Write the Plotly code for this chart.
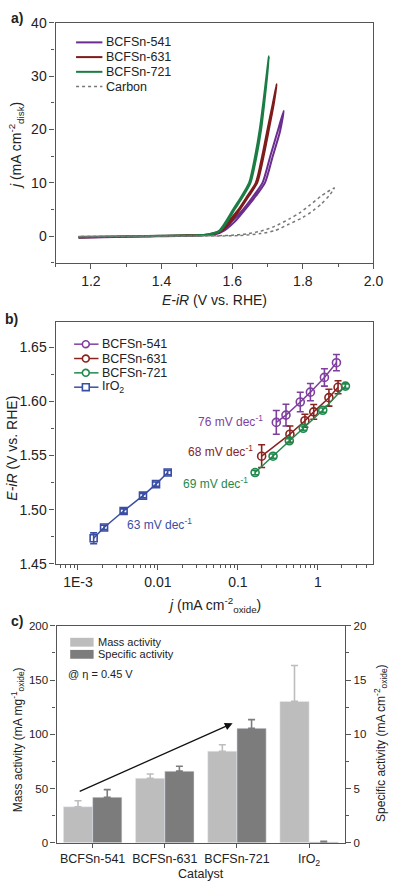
import plotly.graph_objects as go

# ---------------- data: panel a (LSV / CV curves) ----------------
E_541 = [1.165, 1.30, 1.45, 1.52, 1.55, 1.572, 1.60, 1.631, 1.66, 1.686, 1.708, 1.728, 1.746,
         1.735, 1.715, 1.693, 1.667, 1.637, 1.606, 1.577, 1.554, 1.50, 1.35, 1.165]
J_541 = [-0.35, -0.15, 0.05, 0.15, 0.4, 1.0, 2.8, 5.0, 7.5, 10.0, 15.0, 19.5, 23.5,
         19.5, 15.0, 10.0, 7.5, 5.0, 2.6, 1.0, 0.35, 0.1, -0.1, -0.3]
E_631 = [1.165, 1.30, 1.45, 1.52, 1.548, 1.568, 1.591, 1.618, 1.643, 1.667, 1.685, 1.70, 1.714, 1.726,
         1.717, 1.704, 1.689, 1.671, 1.647, 1.622, 1.595, 1.572, 1.551, 1.50, 1.35, 1.165]
J_631 = [-0.3, -0.1, 0.1, 0.2, 0.5, 1.0, 2.8, 5.0, 7.5, 10.0, 15.0, 20.0, 24.5, 28.5,
         24.5, 20.0, 15.0, 10.0, 7.5, 5.0, 2.6, 1.0, 0.4, 0.15, -0.05, -0.25]
E_721 = [1.165, 1.30, 1.45, 1.52, 1.545, 1.563, 1.58, 1.603, 1.627, 1.648, 1.665, 1.678, 1.688, 1.697, 1.704,
         1.699, 1.691, 1.682, 1.669, 1.652, 1.631, 1.607, 1.585, 1.567, 1.548, 1.50, 1.35, 1.165]
J_721 = [-0.25, -0.05, 0.1, 0.2, 0.5, 1.0, 2.5, 5.0, 7.5, 10.0, 15.0, 20.0, 25.0, 30.0, 33.7,
         30.0, 25.0, 20.0, 15.0, 10.0, 7.5, 5.0, 2.6, 1.0, 0.4, 0.15, 0.0, -0.2]
E_carbon = [1.165, 1.40, 1.55, 1.62, 1.68, 1.72, 1.76, 1.80, 1.83, 1.852, 1.875, 1.889,
            1.87, 1.852, 1.82, 1.79, 1.762, 1.72, 1.68, 1.64, 1.60, 1.55, 1.40, 1.165]
J_carbon = [-0.1, -0.05, 0.0, 0.1, 0.45, 1.0, 2.2, 3.5, 4.8, 6.0, 7.6, 9.0,
            8.3, 7.5, 5.8, 4.3, 3.2, 1.8, 0.9, 0.4, 0.15, 0.05, 0.0, -0.05]

# ---------------- data: panel b (Tafel) ----------------
tafel_j_541 = [0.302, 0.399, 0.602, 0.806, 1.207, 1.706]
tafel_E_541 = [1.5806, 1.5873, 1.5994, 1.6085, 1.6221, 1.6357]
tafel_err_541 = [0.011, 0.010, 0.009, 0.008, 0.008, 0.0075]
tafel_j_631 = [0.198, 0.447, 0.689, 0.887, 1.374, 1.787]
tafel_E_631 = [1.5494, 1.5697, 1.5821, 1.5903, 1.6034, 1.6130]
tafel_err_631 = [0.0105, 0.0075, 0.006, 0.0068, 0.0078, 0.006]
tafel_j_721 = [0.164, 0.275, 0.439, 0.656, 1.15, 2.21]
tafel_E_721 = [1.5343, 1.5494, 1.5636, 1.5752, 1.5918, 1.6141]
tafel_err_721 = [0.002, 0.002, 0.002, 0.002, 0.002, 0.002]
tafel_j_ir = [0.00157, 0.00212, 0.00372, 0.0065, 0.00946, 0.01324]
tafel_E_ir = [1.4736, 1.4836, 1.4988, 1.5130, 1.5236, 1.5343]
tafel_err_ir = [0.005, 0.002, 0.002, 0.002, 0.002, 0.002]
slope_labels = ["76 mV dec<sup>-1</sup>", "68 mV dec<sup>-1</sup>", "69 mV dec<sup>-1</sup>", "63 mV dec<sup>-1</sup>"]

# ---------------- data: panel c (activities) ----------------
catalysts = ["BCFSn-541", "BCFSn-631", "BCFSn-721", "IrO<sub>2</sub>"]
mass_activity = [33.2, 59.4, 84.4, 130.3]
mass_err = [5.5, 4.0, 6.0, 33.0]
specific_activity = [4.2, 6.6, 10.55, 0.08]
specific_err = [0.7, 0.45, 0.8, 0.05]
arrow_start = (-0.2, 46.8)
arrow_end = (1.94, 110.1)

# ---------------- styling ----------------
W, H = 402, 894
FONT = "Liberation Sans, Arial, sans-serif"
TXT = "#222222"
AX = "#555555"
PURPLE_A, RED_A, GREEN_A = "#6b2d8f", "#7e1b1b", "#1b7d45"
PURPLE_B, RED_B, GREEN_B, BLUE_B = "#7f3f9f", "#8a2320", "#22894d", "#3a4ea3"
LIGHT, DARK = "#bdbdbd", "#7c7c7c"


def px(x):
    return x / W


def py(y):
    return 1 - y / H


fig = go.Figure()

# panel a
for E, J, c, name in [(E_541, J_541, PURPLE_A, "BCFSn-541"), (E_631, J_631, RED_A, "BCFSn-631"),
                      (E_721, J_721, GREEN_A, "BCFSn-721")]:
    fig.add_trace(go.Scatter(x=E, y=J, mode="lines", line=dict(color=c, width=2, shape="spline", smoothing=0.7),
                             name=name, xaxis="x", yaxis="y", showlegend=False))
fig.add_trace(go.Scatter(x=E_carbon, y=J_carbon, mode="lines",
                         line=dict(color="#777777", width=1.5, dash="dot", shape="spline", smoothing=0.7),
                         name="Carbon", xaxis="x", yaxis="y", showlegend=False))

# panel b
for jj, EE, err, c, sym, name in [
    (tafel_j_541, tafel_E_541, tafel_err_541, PURPLE_B, "circle-open", "BCFSn-541"),
    (tafel_j_631, tafel_E_631, tafel_err_631, RED_B, "circle-open", "BCFSn-631"),
    (tafel_j_721, tafel_E_721, tafel_err_721, GREEN_B, "circle-open", "BCFSn-721"),
    (tafel_j_ir, tafel_E_ir, tafel_err_ir, BLUE_B, "square-open", "IrO2"),
]:
    fig.add_trace(go.Scatter(x=jj, y=EE, mode="lines+markers", name=name,
                             line=dict(color=c, width=1.5),
                             marker=dict(symbol=sym, size=8 if sym == "circle-open" else 7,
                                         color=c, line=dict(width=1.6, color=c)),
                             error_y=dict(type="data", array=err, color=c, thickness=1.6, width=3.5),
                             xaxis="x2", yaxis="y2", showlegend=False))

# panel c
fig.add_trace(go.Bar(x=catalysts, y=mass_activity, name="Mass activity", marker_color=LIGHT,
                     width=0.405, offset=-0.405,
                     error_y=dict(type="data", array=mass_err, arrayminus=[0] * 4, symmetric=False,
                                  color=LIGHT, thickness=1.6, width=3.5),
                     xaxis="x3", yaxis="y3", showlegend=False))
fig.add_trace(go.Bar(x=catalysts, y=specific_activity, name="Specific activity", marker_color=DARK,
                     width=0.405, offset=0,
                     error_y=dict(type="data", array=specific_err, arrayminus=[0] * 4, symmetric=False,
                                  color=DARK, thickness=1.6, width=3.5),
                     xaxis="x3", yaxis="y4", showlegend=False))


def axis(**kw):
    base = dict(showline=True, linecolor=AX, linewidth=1.2, ticks="outside", ticklen=5, tickwidth=1.2,
                tickcolor=AX, showgrid=False, zeroline=False, tickfont=dict(family=FONT, size=14, color=TXT))
    base.update(kw)
    return base


layout = dict(
    width=W, height=H, margin=dict(l=0, r=0, t=0, b=0),
    paper_bgcolor="white", plot_bgcolor="white", showlegend=False,
    font=dict(family=FONT, color=TXT),
    xaxis=axis(domain=[px(57), px(383)], anchor="y", range=[1.1, 2.0], dtick=0.2, tick0=1.2,
               tickformat=".1f", mirror=True,
               minor=dict(dtick=0.1, ticks="outside", ticklen=3, tickcolor=AX)),
    yaxis=axis(domain=[py(259.3), py(15)], anchor="x", range=[-5, 40], dtick=10, mirror=True,
               minor=dict(dtick=5, ticks="outside", ticklen=3, tickcolor=AX)),
    xaxis2=axis(domain=[px(57), px(383)], anchor="y2", type="log", range=[-3.28, 0.695],
                tickvals=[0.001, 0.01, 0.1, 1], ticktext=["1E-3", "0.01", "0.1", "1"], mirror=True,
                minor=dict(tickvals=[m * 10 ** d for d in range(-4, 1) for m in range(2, 10)],
                           ticks="outside", ticklen=3, tickcolor=AX)),
    yaxis2=axis(domain=[py(566), py(320)], anchor="x2", range=[1.45, 1.673], dtick=0.05,
                tick0=1.45, tickformat=".2f", mirror=True,
                minor=dict(dtick=0.025, ticks="outside", ticklen=3, tickcolor=AX)),
    xaxis3=axis(domain=[px(58), px(354)], anchor="y3", range=[-0.5, 3.5], mirror=True, ticklen=4,
                tickfont=dict(family=FONT, size=12.5, color=TXT)),
    yaxis3=axis(domain=[py(850), py(629)], anchor="x3", range=[0, 200], dtick=50,
                tickfont=dict(family=FONT, size=11.5, color=TXT),
                minor=dict(dtick=25, ticks="outside", ticklen=3, tickcolor=AX)),
    yaxis4=axis(overlaying="y3", side="right", anchor="x3", range=[0, 20], dtick=5,
                tickfont=dict(family=FONT, size=11.5, color=TXT),
                minor=dict(dtick=2.5, ticks="outside", ticklen=3, tickcolor=AX)),
)
fig.update_layout(**layout)

ann = []
shapes = []


def text(x, y, s, size, color=TXT, xanchor="left", angle=0, bold=False):
    ann.append(dict(x=px(x), y=py(y), xref="paper", yref="paper", text=("<b>%s</b>" % s) if bold else s,
                    showarrow=False, xanchor=xanchor, yanchor="middle", textangle=angle,
                    font=dict(family=FONT, size=size, color=color)))


# panel labels
text(9, 10, "a)", 14, bold=True)
text(3, 317, "b)", 14, bold=True)
text(9, 624, "c)", 14, bold=True)

# axis titles
text(220, 297, "<i>E-iR</i> (V vs. RHE)", 14, xanchor="center")
text(17, 140, "<i>j</i> (mA cm<sup>-2</sup><sub>disk</sub>)", 14, xanchor="center", angle=-90)
text(220, 608, "<i>j</i> (mA cm<sup>-2</sup><sub>oxide</sub>)", 14, xanchor="center")
text(12, 448, "<i>E-iR</i> (V vs. RHE)", 14, xanchor="center", angle=-90)
text(206, 882, "Catalyst", 12.5, xanchor="center")
text(18, 745, "Mass activity (mA mg<sup>-1</sup><sub>oxide</sub>)", 12, xanchor="center", angle=-90)
text(390, 748, "Specific activity (mA cm<sup>-2</sup><sub>oxide</sub>)", 12, xanchor="center", angle=-90)

# legend a
for i, (c, name, dash) in enumerate([(PURPLE_A, "BCFSn-541", "solid"), (RED_A, "BCFSn-631", "solid"),
                                     (GREEN_A, "BCFSn-721", "solid"), ("#777777", "Carbon", "dot")]):
    y = 35 + i * 15
    shapes.append(dict(type="line", xref="paper", yref="paper", x0=px(78), x1=px(105), y0=py(y), y1=py(y),
                       line=dict(color=c, width=2 if dash == "solid" else 1.5, dash=dash)))
    text(107, y, name, 12.5)

# legend b
for i, (c, name, sym) in enumerate([(PURPLE_B, "BCFSn-541", "circle"), (RED_B, "BCFSn-631", "circle"),
                                    (GREEN_B, "BCFSn-721", "circle"), (BLUE_B, "IrO<sub>2</sub>", "rect")]):
    y = 342.3 + i * 14.6
    shapes.append(dict(type="line", xref="paper", yref="paper", x0=px(76), x1=px(84.5), y0=py(y), y1=py(y),
                       line=dict(color=c, width=1.5)))
    shapes.append(dict(type="line", xref="paper", yref="paper", x0=px(91.5), x1=px(101), y0=py(y), y1=py(y),
                       line=dict(color=c, width=1.5)))
    shapes.append(dict(type=sym, xref="paper", yref="paper", x0=px(84.5), x1=px(91.5), y0=py(y + 3.5),
                       y1=py(y - 3.5), line=dict(color=c, width=1.6), fillcolor="rgba(0,0,0,0)"))
    text(103, y, name, 12.5)

# slope labels
text(272, 421, slope_labels[0], 12, color=PURPLE_B, xanchor="right")
text(262, 451, slope_labels[1], 12, color=RED_B, xanchor="right")
text(256, 484, slope_labels[2], 12, color=GREEN_B, xanchor="right")
text(128, 525, slope_labels[3], 12, color=BLUE_B, xanchor="left")

# legend c
for i, (c, name) in enumerate([(LIGHT, "Mass activity"), (DARK, "Specific activity")]):
    y = 645.8 + i * 12.3
    shapes.append(dict(type="rect", xref="paper", yref="paper", x0=px(72), x1=px(96), y0=py(y + 4.5),
                       y1=py(y - 4.5), line=dict(width=0), fillcolor=c))
    text(98, y, name, 11)
text(68, 678, "@ η = 0.45 V", 11)

# arrow panel c
ann.append(dict(x=arrow_end[0], y=arrow_end[1], ax=arrow_start[0], ay=arrow_start[1], xref="x3", yref="y3",
                axref="x3", ayref="y3", text="", showarrow=True, arrowhead=2, arrowsize=1.2, arrowwidth=1.3,
                arrowcolor="#111111"))

fig.update_layout(annotations=ann, shapes=shapes)
fig.write_html("out.html", config={"displayModeBar": False},
               post_script="document.body.style.margin='0';document.body.style.overflow='hidden';")
